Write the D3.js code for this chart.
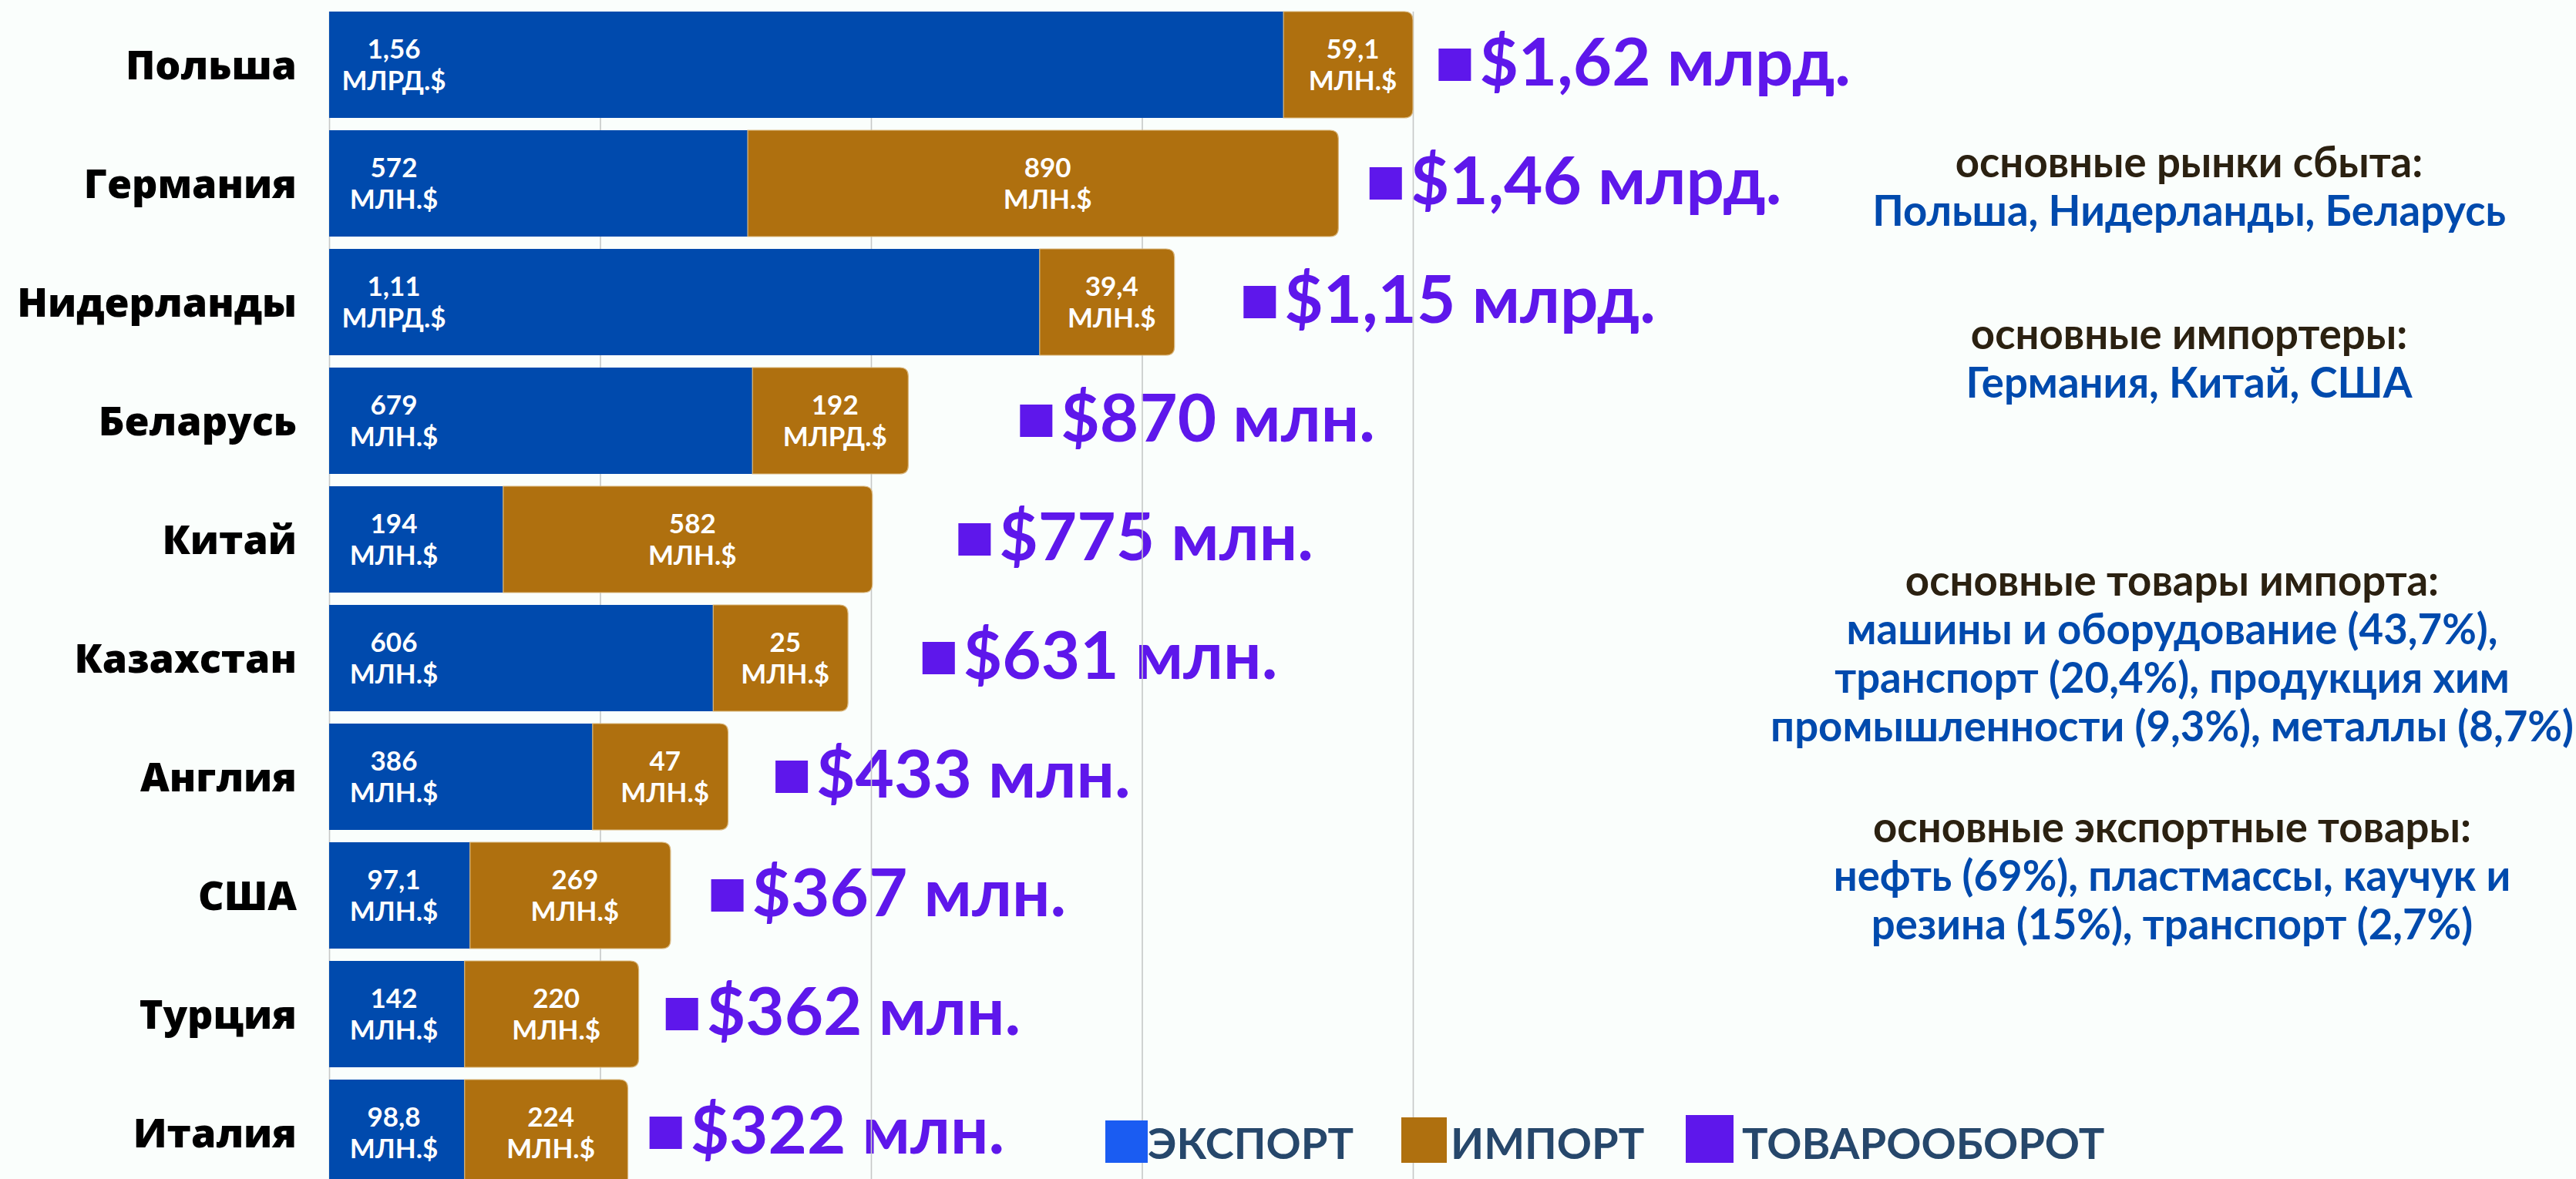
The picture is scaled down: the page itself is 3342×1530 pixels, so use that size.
<!DOCTYPE html>
<html><head><meta charset="utf-8">
<script src="https://cdn.jsdelivr.net/npm/d3@7"></script>
<style>html,body{margin:0;padding:0;background:#FAFEFC;} svg{display:block}</style>
</head><body><svg id="chart" width="3342" height="1530"></svg>
<script>
// ---- data ----
const countries = ["Польша","Германия","Нидерланды","Беларусь","Китай","Казахстан","Англия","США","Турция","Италия"];
// drawn bar lengths (axis units; gridlines every 400)
const exportBar = [1409, 618, 1049, 625, 257, 567, 389, 208, 200, 200];
const importBar = [191, 872, 199, 230, 545, 199, 200, 296, 257, 241];
// position of the ТОВАРООБОРОТ marker on the same axis
const turnoverMarker = [1638, 1536, 1350, 1020, 929, 876, 659, 564, 497, 473];
const exportValue = ["1,56","572","1,11","679","194","606","386","97,1","142","98,8"];
const exportUnit  = ["МЛРД.$","МЛН.$","МЛРД.$","МЛН.$","МЛН.$","МЛН.$","МЛН.$","МЛН.$","МЛН.$","МЛН.$"];
const importValue = ["59,1","890","39,4","192","582","25","47","269","220","224"];
const importUnit  = ["МЛН.$","МЛН.$","МЛН.$","МЛРД.$","МЛН.$","МЛН.$","МЛН.$","МЛН.$","МЛН.$","МЛН.$"];
const turnoverLabel = ["$1,62 млрд.","$1,46 млрд.","$1,15 млрд.","$870 млн.","$775 млн.","$631 млн.","$433 млн.","$367 млн.","$362 млн.","$322 млн."];
const gridTicks = [0, 400, 800, 1200, 1600];
const legendLabels = ["ЭКСПОРТ","ИМПОРТ","ТОВАРООБОРОТ"];
const noteTitles = ["основные рынки сбыта:","основные импортеры:","основные товары импорта:","основные экспортные товары:"];
const noteLines = [
  ["Польша, Нидерланды, Беларусь"],
  ["Германия, Китай, США"],
  ["машины и оборудование (43,7%),","транспорт (20,4%), продукция хим","промышленности (9,3%), металлы (8,7%)"],
  ["нефть (69%), пластмассы, каучук и","резина (15%), транспорт (2,7%)"]
];

// ---- styles ----
const C_EXP = "#004AAD", C_IMP = "#AF700F", C_TOT = "#5E17EB";
const C_LEG_EXP = "#1A5CF2";
const FONT = "Lato, 'Open Sans', sans-serif";

const svg = d3.select("#chart");
svg.append("rect").attr("width",3342).attr("height",1530).attr("fill","#FAFEFC");

const x = d3.scaleLinear().domain([0,1600]).range([427,1833]);
const y = d3.scaleBand().domain(countries).range([15,1539]).paddingInner(16/154).paddingOuter(0);
const bw = y.bandwidth();

const rows = countries.map((c,i)=>({c,i,e:exportBar[i],m:importBar[i]}));

// total labels (under gridlines)
const tot = svg.append("g");
rows.forEach(d=>{
  const cy = y(d.c) + bw/2;
  const sx = x(turnoverMarker[d.i]);
  tot.append("rect").attr("x",sx).attr("y",cy-21).attr("width",42).attr("height",42).attr("fill",C_TOT);
  tot.append("text").attr("x",sx+53).attr("y",cy+27)
    .attr("font-family",FONT).attr("font-weight",700).attr("font-size",87)
    .attr("fill",C_TOT).text(turnoverLabel[d.i]);
});

// gridlines
const grid = svg.append("g").attr("transform","translate(0,15)")
  .call(d3.axisTop(x).tickValues(gridTicks).tickSize(-(1530-15)).tickFormat(""));
grid.select(".domain").remove();
grid.selectAll(".tick line").attr("stroke","#C6C8C7").attr("stroke-width",1.6);

// bars
function rightRounded(x0,y0,w,h,r){
  r = Math.min(r,w/2,h/2);
  return `M${x0},${y0}H${x0+w-r}Q${x0+w},${y0} ${x0+w},${y0+r}V${y0+h-r}Q${x0+w},${y0+h} ${x0+w-r},${y0+h}H${x0}Z`;
}
const bars = svg.append("g");
rows.forEach(d=>{
  const y0 = y(d.c);
  bars.append("rect").attr("x",x(0)).attr("y",y0).attr("width",x(d.e)-x(0)).attr("height",bw).attr("fill",C_EXP);
  bars.append("path").attr("d",rightRounded(x(d.e),y0,x(d.e+d.m)-x(d.e),bw,11))
    .attr("fill",C_IMP).attr("stroke","#D9B77E").attr("stroke-width",1.2);
});

// bar labels
const lab = svg.append("g").attr("font-family",FONT).attr("font-weight",700).attr("font-size",35)
  .attr("fill","#FFFFFF").attr("text-anchor","middle");
rows.forEach(d=>{
  const cy = y(d.c) + bw/2;
  const ex = x(0) + 84;
  const ix = (x(d.e) + x(d.e+d.m))/2 + 6;
  lab.append("text").attr("x",ex).attr("y",cy-8).text(exportValue[d.i]);
  lab.append("text").attr("x",ex).attr("y",cy+33).text(exportUnit[d.i]);
  lab.append("text").attr("x",ix).attr("y",cy-8).text(importValue[d.i]);
  lab.append("text").attr("x",ix).attr("y",cy+33).text(importUnit[d.i]);
});

// category labels
const cat = svg.append("g").attr("font-family","'Open Sans', sans-serif").attr("font-weight",800)
  .attr("font-size",52).attr("fill","#000").attr("text-anchor","end");
rows.forEach(d=>{
  cat.append("text").attr("x",385).attr("y",y(d.c)+bw/2+19).text(d.c);
});

// legend
const legColors = [C_LEG_EXP, C_IMP, C_TOT];
const legX = [1434, 1818, 2187];
const legSize = [55, 59, 62];
const legTextX = [1489, 1882, 2260];
const leg = svg.append("g");
legendLabels.forEach((t,i)=>{
  leg.append("rect").attr("x",legX[i]).attr("y",1509-legSize[i]).attr("width",legSize[i]).attr("height",legSize[i]).attr("fill",legColors[i]);
  leg.append("text").attr("x",legTextX[i]).attr("y",1504).attr("font-family",FONT).attr("font-weight",700)
    .attr("font-size",56).attr("fill","#26476B").text(t);
});

// notes
const noteCx = [2840, 2840, 2818, 2818];
const noteTitleY = [230, 453, 773, 1093];
const notes = svg.append("g").attr("font-family",FONT).attr("font-weight",700).attr("font-size",54.5).attr("text-anchor","middle");
noteTitles.forEach((t,i)=>{
  notes.append("text").attr("x",noteCx[i]).attr("y",noteTitleY[i]).attr("fill","#2B2111").text(t);
  noteLines[i].forEach((l,j)=>{
    notes.append("text").attr("x",noteCx[i]).attr("y",noteTitleY[i]+63*(j+1)).attr("fill","#004AAD").text(l);
  });
});
</script></body></html>
